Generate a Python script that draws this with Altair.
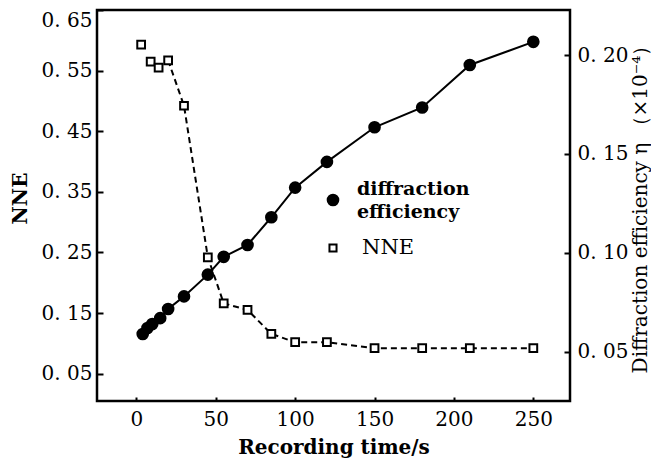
import altair as alt
import pandas as pd

# NNE (left axis)
nne_time = [3, 9, 14, 20, 30, 45, 55, 70, 85, 100, 120, 150, 180, 210, 250]
nne_vals = [0.593, 0.565, 0.555, 0.567, 0.492, 0.242, 0.166, 0.155, 0.1156, 0.1018, 0.1018, 0.092, 0.092, 0.092, 0.092]

# Diffraction efficiency (right axis, x1e-4)
de_time = [4, 7, 10, 15, 20, 30, 45, 55, 70, 85, 100, 120, 150, 180, 210, 250]
de_vals = [0.059, 0.062, 0.064, 0.067, 0.0716, 0.078, 0.089, 0.098, 0.104, 0.118, 0.133, 0.146, 0.1635, 0.1735, 0.195, 0.2067]

x_ticks = [0, 50, 100, 150, 200, 250]
left_ticks = [0.05, 0.15, 0.25, 0.35, 0.45, 0.55, 0.65]
right_ticks = [0.05, 0.10, 0.15, 0.20]

nne_df = pd.DataFrame({"t": nne_time, "v": nne_vals})
de_df = pd.DataFrame({"t": de_time, "v": de_vals})

FONT = "DejaVu Serif"
fmt = "replace(format(datum.value, '.2f'), '.', '. ')"

xscale = alt.Scale(domain=[-24.8, 273.1], nice=False, zero=False)
xaxis = alt.Axis(values=x_ticks, title="Recording time/s", orient="bottom", offset=-4,
                 tickSize=4, tickWidth=2, tickColor="black", domain=False, grid=False,
                 labelFont=FONT, labelFontSize=20, labelColor="black", labelPadding=8,
                 titleFont=FONT, titleFontSize=20, titleFontWeight="bold", titleColor="black",
                 titlePadding=8)
X = alt.X("t:Q", scale=xscale, axis=xaxis)

left_scale = alt.Scale(domain=[0.0048, 0.65], nice=False, zero=False)
left_axis = alt.Axis(values=left_ticks, title="NNE", orient="left", offset=-6, tickSize=6,
                     tickWidth=2, tickColor="black", domain=False, grid=False, labelFlush=2,
                     labelExpr=fmt, labelFont=FONT, labelFontSize=20, labelColor="black",
                     labelPadding=5, titleFont=FONT, titleFontSize=20, titleFontWeight="bold",
                     titleColor="black", titleAngle=270, titleX=-83, titleY=188,
                     titleAlign="center", titleBaseline="middle")
YL = alt.Y("v:Q", scale=left_scale, axis=left_axis)

right_scale = alt.Scale(domain=[0.0251, 0.2228], nice=False, zero=False)
right_axis = alt.Axis(values=right_ticks, title="Diffraction efficiency η （×10⁻⁴）",
                      orient="right", offset=-6, tickSize=6, tickWidth=2, tickColor="black",
                      domain=False, grid=False, labelExpr=fmt, labelFont=FONT, labelFontSize=20,
                      labelColor="black", labelPadding=7, titleFont=FONT, titleFontSize=20,
                      titleFontWeight="normal", titleColor="black", titleAngle=270,
                      titleX=82, titleY=194, titleAlign="center", titleBaseline="alphabetic")
YR = alt.Y("v:Q", scale=right_scale, axis=right_axis)

nne_line = alt.Chart(nne_df).transform_filter("datum.t >= 20").mark_line(
    color="black", strokeWidth=2, strokeDash=[6, 4]
).encode(x=X, y=YL)
nne_pts = alt.Chart(nne_df).mark_point(
    shape="square", size=60, filled=True, fill="white", stroke="black", strokeWidth=2, opacity=1
).encode(x=X, y=YL)
nne_layer = alt.layer(nne_line, nne_pts)

de_line = alt.Chart(de_df).mark_line(color="black", strokeWidth=2).encode(x=X, y=YR)
de_pts = alt.Chart(de_df).mark_point(
    shape="circle", size=160, filled=True, color="black", opacity=1
).encode(x=X, y=YR)
de_layer = alt.layer(de_line, de_pts)

# legend
one = pd.DataFrame({"a": [0]})
leg_c = alt.Chart(one).mark_point(
    shape="circle", size=160, filled=True, color="black", opacity=1
).encode(x=alt.value(236), y=alt.value(190))
leg_s = alt.Chart(one).mark_point(
    shape="square", size=50, filled=True, fill="white", stroke="black", strokeWidth=2, opacity=1
).encode(x=alt.value(236), y=alt.value(238))
leg_t1 = alt.Chart(one).mark_text(
    text="diffraction", font=FONT, fontSize=19, fontWeight="bold", align="left",
    baseline="middle", color="black"
).encode(x=alt.value(260), y=alt.value(179))
leg_t2 = alt.Chart(one).mark_text(
    text="efficiency", font=FONT, fontSize=19, fontWeight="bold", align="left",
    baseline="middle", color="black"
).encode(x=alt.value(260), y=alt.value(202))
leg_t3 = alt.Chart(one).mark_text(
    text="NNE", font=FONT, fontSize=21, align="left", baseline="middle", color="black"
).encode(x=alt.value(265), y=alt.value(238))

chart = alt.layer(nne_layer, de_layer, leg_c, leg_s, leg_t1, leg_t2, leg_t3).resolve_scale(
    y="independent"
).properties(
    width=473, height=391,
    autosize=alt.AutoSizeParams(type="none"),
    padding={"left": 89, "top": 2, "right": 81, "bottom": 57},
    background="white",
).configure_view(stroke="black", strokeWidth=2.5)

chart.save("out.html", embed_options={"renderer": "svg", "actions": False})
